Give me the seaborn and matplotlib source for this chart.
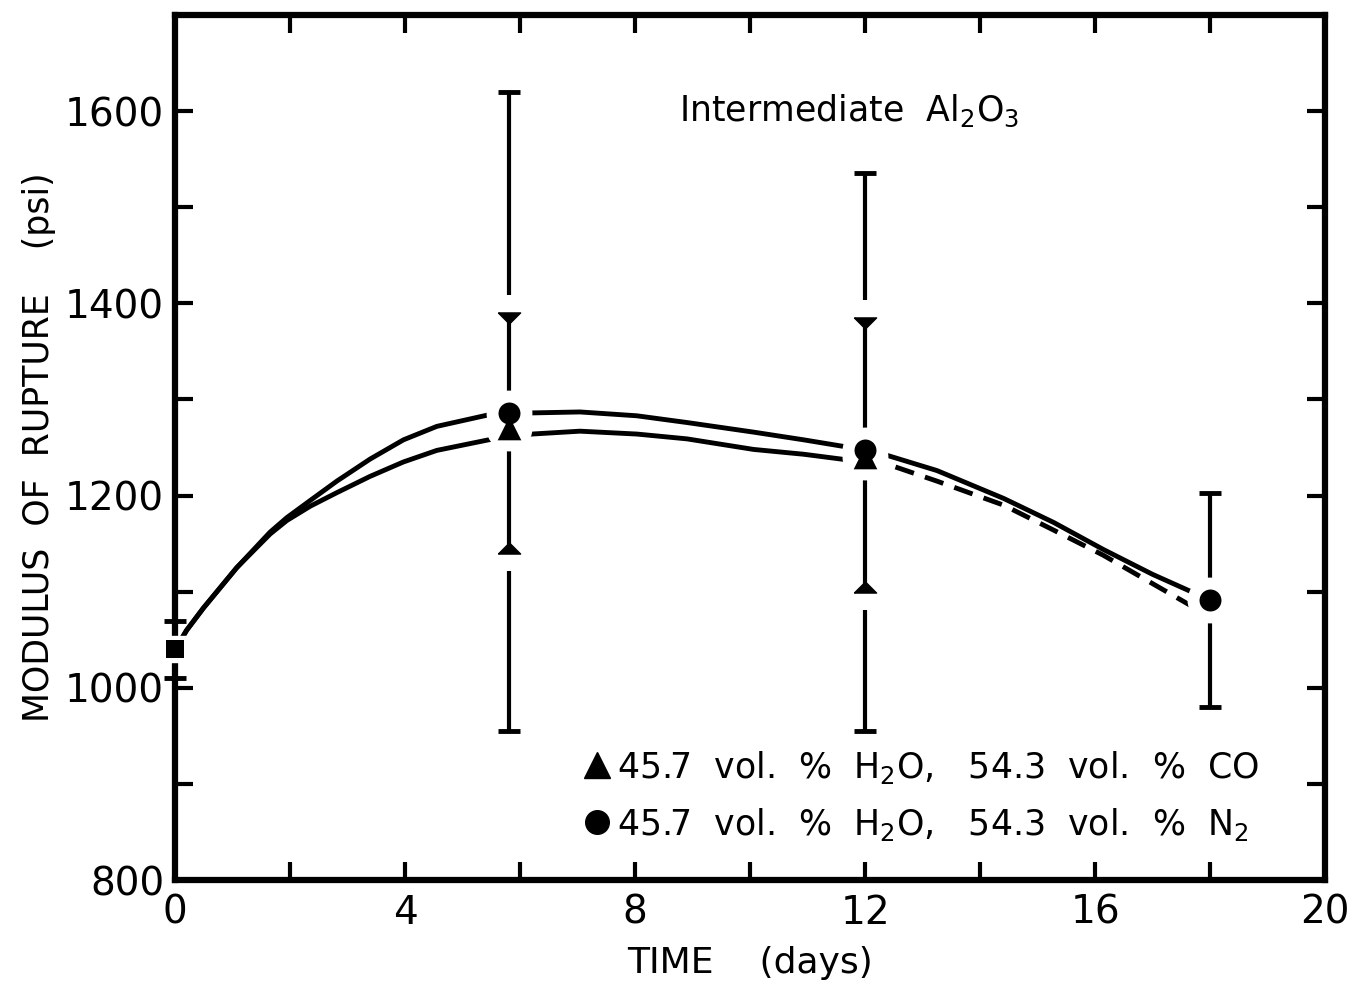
import matplotlib
matplotlib.use('Agg')
import matplotlib.pyplot as plt
import seaborn as sns
import pandas as pd
import numpy as np
from matplotlib.ticker import MultipleLocator

# data (time in days, modulus of rupture in psi)
t_init = [0]
mor_init = [1040]
mor_init_lo = [1010]
mor_init_hi = [1070]

t_n2 = [5.8, 12, 18]
mor_n2 = [1286, 1247, 1091]
mor_n2_lo = [955, 955, 980]
mor_n2_hi = [1620, 1536, 1203]

t_co = [5.8, 12]
mor_co = [1270, 1240]
mor_co_lo = [1145, 1105]
mor_co_hi = [1385, 1380]

# hand-drawn curves, points
curve_n2_t = [0, 0.2, 0.49, 1.07, 1.65, 1.94, 2.35, 2.81, 3.39, 3.97, 4.55, 5.45, 5.8, 6.2,
              7.04, 8.03, 8.9, 10.06, 10.93, 11.74, 12.0, 12.32, 13.25, 14.41, 15.28, 16.14,
              17.0, 17.71, 18.0]
curve_n2_y = [1040, 1060, 1083, 1125, 1162, 1177, 1195, 1215, 1238, 1258, 1272, 1284, 1286, 1286,
              1287, 1283, 1276, 1266, 1258, 1250, 1247, 1243, 1226, 1197, 1172, 1144,
              1118, 1099, 1091]
curve_co_t = [0, 0.2, 0.49, 1.07, 1.65, 1.94, 2.35, 2.81, 3.39, 3.97, 4.55, 5.45, 6.2,
              7.04, 8.03, 8.9, 10.06, 10.93, 11.71, 12.0]
curve_co_y = [1040, 1060, 1083, 1125, 1160, 1174, 1189, 1203, 1220, 1235, 1247, 1258, 1264,
              1267, 1264, 1259, 1248, 1243, 1237, 1236]
curve_co_ext_t = [12.0, 12.32, 13.25, 14.41, 15.28, 16.14, 17.01, 17.65, 17.9]
curve_co_ext_y = [1236, 1234, 1215, 1190, 1164, 1138, 1108, 1086, 1078]

title_txt = 'Intermediate  Al$_2$O$_3$'
legend_co = '45.7  vol.  %  H$_2$O,   54.3  vol.  %  CO'
legend_n2 = '45.7  vol.  %  H$_2$O,   54.3  vol.  %  N$_2$'

sns.set_theme(style='ticks')
plt.rcParams['font.family'] = ['DejaVu Sans']
plt.rcParams['text.color'] = 'black'
plt.rcParams['axes.labelcolor'] = 'black'
plt.rcParams['xtick.color'] = 'black'
plt.rcParams['ytick.color'] = 'black'

fig = plt.figure(figsize=(13.48, 9.88), dpi=100)
ax = fig.add_axes([0.130, 0.1093, 0.853, 0.8755])

lw = 3.5
# curves
sns.lineplot(x=curve_n2_t, y=curve_n2_y, ax=ax, color='black', lw=lw, zorder=2)
sns.lineplot(x=curve_co_t, y=curve_co_y, ax=ax, color='black', lw=lw, zorder=2)
sns.lineplot(x=curve_co_ext_t, y=curve_co_ext_y, ax=ax, color='black', lw=lw,
             linestyle=(0, (4, 2.4)), zorder=2)

# error bars
gap = 24
ebw = 3
ax.vlines(t_init, mor_init_lo, mor_init_hi, color='black', lw=ebw, zorder=2, clip_on=False)
for i, t in enumerate(t_n2):
    if t in t_co:
        j = t_co.index(t)
        ax.vlines(t, mor_co_hi[j] + gap, mor_n2_hi[i], color='black', lw=ebw, zorder=2)
        ax.vlines(t, mor_n2_lo[i], mor_co_lo[j] - gap, color='black', lw=ebw, zorder=2)
    else:
        ax.vlines(t, mor_n2_lo[i], mor_n2_hi[i], color='black', lw=ebw, zorder=2)
ax.vlines(t_co, mor_co_lo, mor_co_hi, color='black', lw=ebw, zorder=2)

# white halos around the data symbols (gaps in lines near the points)
halo = 'white'
ax.plot(t_n2, mor_n2, ls='none', marker='o', ms=32, mfc=halo, mec=halo, zorder=5)
ax.plot(t_co, mor_co, ls='none', marker='o', ms=32, mfc=halo, mec=halo, zorder=5)
ax.plot(t_init, mor_init, ls='none', marker='s', ms=19, mfc=halo, mec=halo, zorder=5,
        clip_on=False)

# flat caps
ax.plot(t_n2 + t_n2 + t_init + t_init, mor_n2_lo + mor_n2_hi + mor_init_lo + mor_init_hi,
        ls='none', marker='_', ms=16, mew=3.5, color='black', zorder=6, clip_on=False)
# triangle caps for the CO series
cap_down = [(-1, 0.5), (1, 0.5), (0, -0.5), (-1, 0.5)]
cap_up = [(-1, -0.5), (1, -0.5), (0, 0.5), (-1, -0.5)]
ax.plot(t_co, mor_co_hi, ls='none', marker=cap_down, ms=16, color='black', zorder=6)
ax.plot(t_co, mor_co_lo, ls='none', marker=cap_up, ms=16, color='black', zorder=6)

# data symbols
sns.scatterplot(x=t_co, y=mor_co, ax=ax, marker='^', s=290, color='black', linewidth=0, zorder=6)
sns.scatterplot(x=t_n2, y=mor_n2, ax=ax, marker='o', s=250, color='black', linewidth=0, zorder=7)
sns.scatterplot(x=t_init, y=mor_init, ax=ax, marker='s', s=170, color='black', linewidth=0,
                zorder=7, clip_on=False)

ax.set_xlim(0, 20)
ax.set_ylim(800, 1700)
ax.xaxis.set_major_locator(MultipleLocator(4))
ax.xaxis.set_minor_locator(MultipleLocator(2))
ax.yaxis.set_major_locator(MultipleLocator(200))
ax.yaxis.set_minor_locator(MultipleLocator(100))
ax.set_yticks([800, 1000, 1200, 1400, 1600])
ax.tick_params(which='both', direction='in', top=True, right=True, length=13, width=3,
               color='black')
ax.tick_params(axis='both', which='major', labelsize=28, colors='black')
ax.tick_params(axis='x', pad=10)
ax.tick_params(axis='y', pad=8)
for s in ax.spines.values():
    s.set_linewidth(4.5)
    s.set_color('black')

ax.set_xlabel('TIME    (days)', fontsize=26)
ax.set_ylabel('MODULUS  OF  RUPTURE    (psi)', fontsize=25)
ax.xaxis.set_label_coords(0.5, -0.076)
ax.yaxis.set_label_coords(-0.104, 0.5)

ax.text(0.438, 0.878, title_txt, transform=ax.transAxes, fontsize=25, va='baseline', ha='left')

# legend drawn by hand
ax.plot([0.367], [0.133], marker='^', ms=19, color='black', transform=ax.transAxes, ls='none')
ax.plot([0.367], [0.067], marker='o', ms=17, color='black', transform=ax.transAxes, ls='none')
ax.text(0.384, 0.118, legend_co, transform=ax.transAxes, fontsize=25, va='baseline', ha='left')
ax.text(0.384, 0.052, legend_n2, transform=ax.transAxes, fontsize=25, va='baseline', ha='left')

fig.savefig('out.png', dpi=100, facecolor='white')
